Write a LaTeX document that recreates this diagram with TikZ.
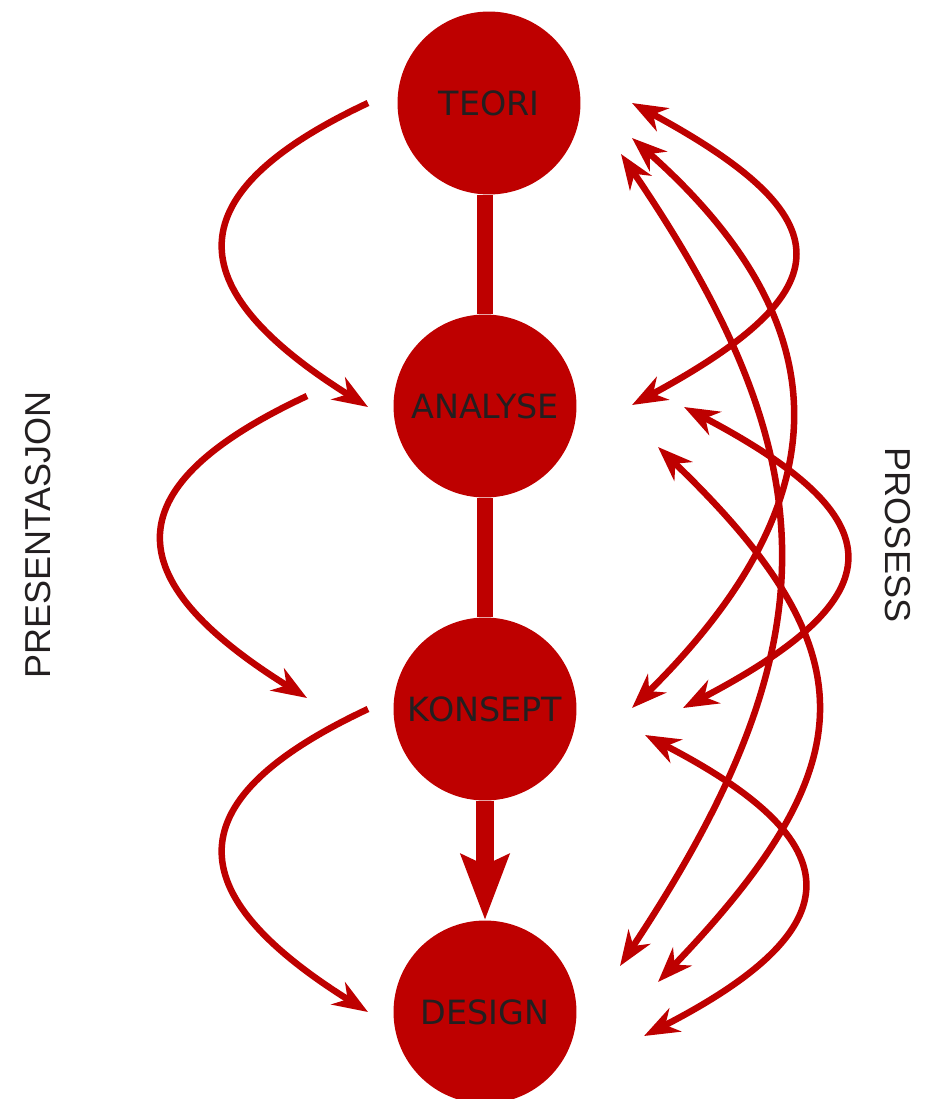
\documentclass[tikz,border=0pt]{standalone}
\usepackage{fontspec}
\setmainfont{DejaVu Sans}
\newfontfamily\sidefont{Liberation Sans}
\usepackage{xcolor}
\usetikzlibrary{arrows.meta}
\definecolor{faserod}{RGB}{190,0,0}
\definecolor{fasetekst}{RGB}{35,31,32}
\tikzstyle{fase} = [circle, fill=faserod, minimum size=3.66cm, inner sep=0pt, text=fasetekst, font=\fontsize{19}{21}\selectfont]
\tikzstyle{stolpe} = [draw=faserod, line width=0.32cm]
\tikzstyle{pil} = [draw=faserod, line width=0.13cm, -{Stealth[length=0.7cm,width=0.52cm,inset=0.22cm]}]
\tikzstyle{dobbelpil} = [draw=faserod, line width=0.13cm, {Stealth[length=0.7cm,width=0.52cm,inset=0.22cm]}-{Stealth[length=0.7cm,width=0.52cm,inset=0.22cm]}]
\tikzstyle{side} = [text=fasetekst, font=\sidefont\fontsize{20.5}{22}\selectfont]

\begin{document}
\begin{tikzpicture}[x=0.02cm, y=-0.02cm]
	\useasboundingbox (0,0) rectangle (936,1099);
	%Faser
	\node[fase] (teori) at (489,103) {TEORI};
	\node[fase] (analyse) at (485,406) {ANALYSE};
	\node[fase] (konsept) at (485,709) {KONSEPT};
	\node[fase] (design) at (485,1012) {DESIGN};
	\draw[stolpe] (analyse.north) -- (analyse |- teori.south);
	\draw[stolpe] (analyse) -- (konsept);
	\draw[stolpe, line width=0.36cm, -{Stealth[length=1.3cm,width=0.94cm,inset=0.2cm]}] (konsept) -- (design);
	%Sidetekst
	\node[side, rotate=90] (presentasjon) at (38,535) {PRESENTASJON};
	\node[side, rotate=-90] (prosess) at (898,535) {PROSESS};
	%Presentasjon (venstre)
	\coordinate (pA) at (368,103);
	\coordinate (pB) at (368,407);
	\coordinate (pC) at (307,396);
	\coordinate (pD) at (307,698);
	\coordinate (pE) at (368,709);
	\coordinate (pF) at (368,1012);
	\draw[pil] (pA) .. controls (176,193) and (176,287) .. (pB);
	\draw[pil] (pC) .. controls (114,486) and (114,578) .. (pD);
	\draw[pil] (pE) .. controls (176,799) and (176,892) .. (pF);
	%Prosess (hoyre)
	\coordinate (t1) at (632,103);
	\coordinate (t2) at (632,138);
	\coordinate (t3) at (621,154);
	\coordinate (a1) at (632,405);
	\coordinate (a2) at (684,407);
	\coordinate (a3) at (658,447);
	\coordinate (k1) at (632,708);
	\coordinate (k2) at (683,708);
	\coordinate (k3) at (645,735);
	\coordinate (d1) at (620,966);
	\coordinate (d2) at (658,982);
	\coordinate (d3) at (644,1036);
	\draw[dobbelpil] (t1) .. controls (845,218) and (845,290) .. (a1);
	\draw[dobbelpil] (t2) .. controls (843,325) and (843,500) .. (k1);
	\draw[dobbelpil] (t3) .. controls (832,464) and (832,646) .. (d1);
	\draw[dobbelpil] (a2) .. controls (897,519) and (897,596) .. (k2);
	\draw[dobbelpil] (a3) .. controls (869,650) and (869,762) .. (d2);
	\draw[dobbelpil] (k3) .. controls (854,843) and (854,928) .. (d3);
\end{tikzpicture}
\end{document}
